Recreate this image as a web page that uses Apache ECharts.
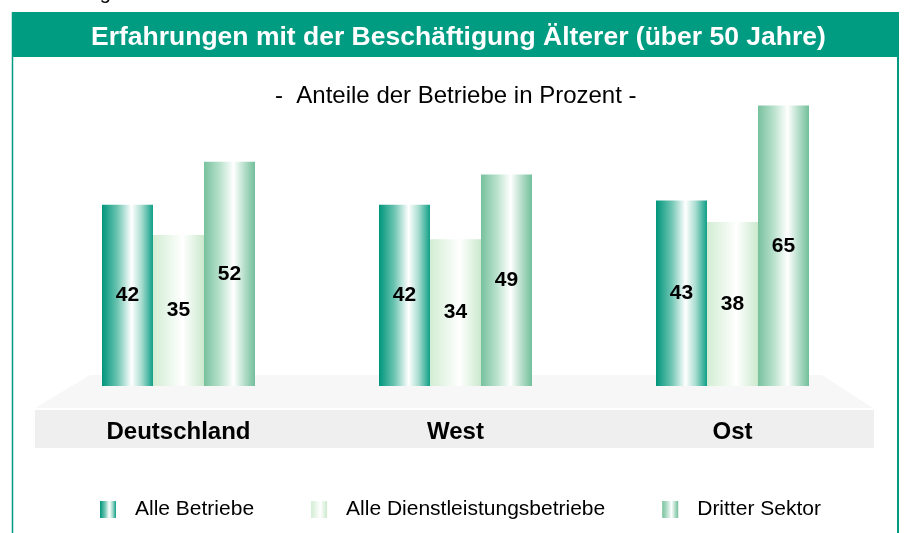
<!DOCTYPE html>
<html>
<head>
<meta charset="utf-8">
<script src="https://cdn.jsdelivr.net/npm/echarts@6/dist/echarts.min.js"></script>
<style>
  html, body { margin: 0; padding: 0; background: #fff; }
  #chart { width: 904px; height: 533px; }
</style>
</head>
<body>
<div id="chart"></div>
<script>
// Kategorien und Werte (Anteile der Betriebe in Prozent)
const categories = ['Deutschland', 'West', 'Ost'];
const seriesNames = ['Alle Betriebe', 'Alle Dienstleistungsbetriebe', 'Dritter Sektor'];
const alleBetriebe = [42, 42, 43];
const dienstleistung = [35, 34, 38];
const dritterSektor = [52, 49, 65];

const FONT = '"Liberation Sans", Arial, sans-serif';
const TEAL = '#009c82';

// Farbverlauf quer ueber den Balken (Zylinder-Optik)
function grad(stops) {
  return new echarts.graphic.LinearGradient(0, 0, 1, 0,
    stops.map(function (s) { return { offset: s[0], color: s[1] }; }));
}
const colBetriebe = grad([[0, '#00957c'], [0.3, '#6cc4b1'], [0.58, '#ffffff'], [0.78, '#a6dccf'], [1, '#109f87']]);
const colDienst = grad([[0, '#d2edd3'], [0.58, '#ffffff'], [1, '#cbe9cd']]);
const colSektor = grad([[0, '#77c19d'], [0.3, '#b7e0cb'], [0.58, '#ffffff'], [0.8, '#b3ddc8'], [1, '#72bf9b']]);

function barSeries(name, data, color) {
  return {
    name: name,
    type: 'bar',
    data: data,
    barWidth: 51,
    barGap: '0%',
    z: 3,
    itemStyle: { color: color },
    label: {
      show: true,
      position: 'inside',
      color: '#000',
      fontFamily: FONT,
      fontWeight: 'bold',
      fontSize: 21
    }
  };
}

const chart = echarts.init(document.getElementById('chart'));

const option = {
  animation: false,
  title: [{
    text: 'Erfahrungen mit der Beschäftigung Älterer (über 50 Jahre)',
    left: 86,
    top: 19,
    textStyle: { color: '#fff', fontFamily: FONT, fontWeight: 'bold', fontSize: 26.5 }
  }, {
    text: '-  Anteile der Betriebe in Prozent -',
    left: 270,
    top: 79,
    textStyle: { color: '#000', fontFamily: FONT, fontWeight: 'normal', fontSize: 24 }
  }],
  graphic: [
    // angeschnittene Beschriftung oben links
    { type: 'text', left: 22, top: -17, z: 0,
      style: { text: 'Abbildung', font: '20px ' + FONT, fill: '#000' } },
    // Rahmen mit Titelleiste
    { type: 'rect', shape: { x: 12, y: 12, width: 887, height: 45 }, style: { fill: TEAL }, z: 0 },
    { type: 'line', shape: { x1: 12.5, y1: 12, x2: 12.5, y2: 533 }, style: { stroke: TEAL, lineWidth: 1.5 }, z: 0 },
    { type: 'line', shape: { x1: 898, y1: 12, x2: 898, y2: 533 }, style: { stroke: TEAL, lineWidth: 2 }, z: 0 },
    // Bodenplatte
    { type: 'polygon', shape: { points: [[90, 375], [822, 375], [873, 408], [35, 408]] },
      style: { fill: '#f7f7f7' }, z: 0 },
    { type: 'rect', shape: { x: 35, y: 410, width: 839, height: 38 }, style: { fill: '#efefef' }, z: 0 }
  ],
  legend: {
    data: seriesNames,
    left: 95,
    top: 494,
    icon: 'rect',
    itemWidth: 16,
    itemHeight: 17,
    itemGap: 57,
    selectedMode: false,
    textStyle: {
      color: '#000',
      fontFamily: FONT,
      fontSize: 21,
      padding: [0, 0, 0, 14]
    }
  },
  grid: { left: 40, right: 33, top: 84, height: 302 },
  xAxis: {
    type: 'category',
    data: categories,
    axisLine: { show: false },
    axisTick: { show: false },
    axisLabel: {
      margin: 34,
      color: '#000',
      fontFamily: FONT,
      fontWeight: 'bold',
      fontSize: 24
    }
  },
  yAxis: {
    type: 'value',
    min: 0,
    max: 70,
    show: false,
    splitLine: { show: false }
  },
  series: [
    barSeries(seriesNames[0], alleBetriebe, colBetriebe),
    barSeries(seriesNames[1], dienstleistung, colDienst),
    barSeries(seriesNames[2], dritterSektor, colSektor)
  ]
};

chart.setOption(option);
</script>
</body>
</html>
